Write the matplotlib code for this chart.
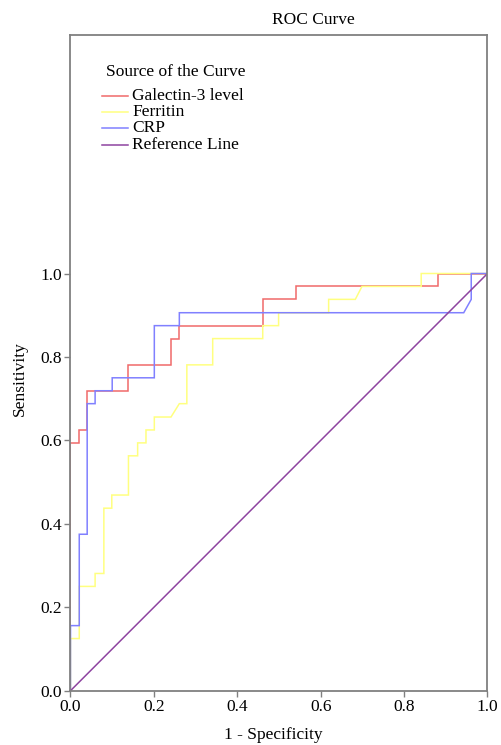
import matplotlib
matplotlib.use("Agg")
import matplotlib.pyplot as plt
from matplotlib.lines import Line2D

plt.rcParams['font.family'] = ['Liberation Serif', 'DejaVu Serif']

# ROC coordinates (1 - specificity, sensitivity)
gal_x = [0, 0, 0.021, 0.021, 0.039, 0.039, 0.139, 0.139, 0.241, 0.241, 0.261, 0.261,
         0.461, 0.461, 0.540, 0.540, 0.881, 0.881, 1.0]
gal_y = [0, 0.594, 0.594, 0.625, 0.625, 0.719, 0.719, 0.781, 0.781, 0.844, 0.844, 0.875,
         0.875, 0.938, 0.938, 0.969, 0.969, 1.0, 1.0]

fer_x = [0, 0, 0.021, 0.021, 0.059, 0.059, 0.080, 0.080, 0.099, 0.099, 0.139, 0.139,
         0.161, 0.161, 0.181, 0.181, 0.201, 0.201, 0.241, 0.261, 0.279, 0.279, 0.341,
         0.341, 0.461, 0.461, 0.499, 0.499, 0.619, 0.619, 0.683, 0.699, 0.841, 0.841, 1.0]
fer_y = [0, 0.125, 0.125, 0.25, 0.25, 0.281, 0.281, 0.4375, 0.4375, 0.469, 0.469, 0.563,
         0.563, 0.594, 0.594, 0.625, 0.625, 0.656, 0.656, 0.688, 0.688, 0.781, 0.781,
         0.844, 0.844, 0.875, 0.875, 0.906, 0.906, 0.938, 0.938, 0.969, 0.969, 1.0, 1.0]

crp_x = [0, 0, 0.021, 0.021, 0.040, 0.040, 0.059, 0.059, 0.100, 0.100, 0.201, 0.201,
         0.261, 0.261, 0.943, 0.961, 0.961, 1.0]
crp_y = [0, 0.156, 0.156, 0.375, 0.375, 0.688, 0.688, 0.719, 0.719, 0.75, 0.75, 0.875,
         0.875, 0.906, 0.906, 0.938, 1.0, 1.0]

ref_x = [0, 1]
ref_y = [0, 1]

labels = ["Galectin-3 level", "Ferritin", "CRP", "Reference Line"]
colors = ["#f06a6a", "#ffff80", "#8080ff", "#8e44a0"]
ticks = [0.0, 0.2, 0.4, 0.6, 0.8, 1.0]

W, H = 502, 745
fig = plt.figure(figsize=(W / 100, H / 100), dpi=100)
L, R, B, T = 70.5, 487.5, 690.7, 35
ax = fig.add_axes([L / W, 1 - B / H, (R - L) / W, (B - T) / H])

series = [(gal_x, gal_y), (fer_x, fer_y), (crp_x, crp_y), (ref_x, ref_y)]
for (xs, ys), c in zip(series, colors):
    ax.plot(xs, ys, color=c, lw=1.1, solid_joinstyle='miter')

ax.set_xlim(0, 1)
ax.set_ylim(0, (B - T) / (B - 273.5))
ax.set_xticks(ticks)
ax.set_yticks(ticks)
ax.set_xticklabels([f"{t:.1f}" for t in ticks])
ax.set_yticklabels([f"{t:.1f}" for t in ticks])
ax.tick_params(direction='out', length=4, width=1, color='#808080',
               labelsize=12.5, pad=2, labelcolor='black')
for s in ax.spines.values():
    s.set_color('#808080')
    s.set_linewidth(1.3)

fig.text(313 / W, 1 - 20 / H, "ROC Curve", ha='center', va='center', fontsize=12.5)
fig.text(273 / W, 1 - 735 / H, "1 - Specificity", ha='center', va='center', fontsize=12.5)
fig.text(20 / W, 1 - 379 / H, "Sensitivity", ha='center', va='center', rotation=90, fontsize=12.5)

# legend
fig.text(106 / W, 1 - 72 / H, "Source of the Curve", ha='left', va='center', fontsize=12.5)
ys_leg = [96, 112, 128, 145]
for lab, c, yy in zip(labels, colors, ys_leg):
    fig.add_artist(Line2D([102 / W, 128 / W], [1 - yy / H, 1 - yy / H], color=c, lw=1.1))
    fig.text(132 / W, 1 - yy / H, lab, ha='left', va='center', fontsize=12.5)

fig.savefig("out.png", dpi=100)
